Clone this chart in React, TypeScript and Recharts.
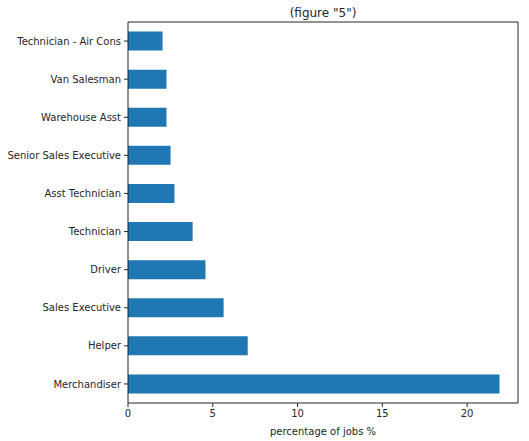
import React from 'react';
import { BarChart, Bar, XAxis, YAxis, ReferenceLine } from 'recharts';

// job titles, top to bottom as drawn
const jobs = [
  'Technician - Air Cons',
  'Van Salesman',
  'Warehouse Asst',
  'Senior Sales Executive',
  'Asst Technician',
  'Technician',
  'Driver',
  'Sales Executive',
  'Helper',
  'Merchandiser',
];
const percentages = [2.04, 2.27, 2.27, 2.51, 2.74, 3.81, 4.57, 5.64, 7.06, 21.91];
const xTicks = [0, 5, 10, 15, 20];
const xMax = 23.0;

const data = jobs.map((name, i) => ({ name, pct: percentages[i] }));

const font = 'DejaVu Sans, sans-serif';
const ink = '#262626';

// single-line category label (recharts would wrap long ones)
const JobTick = (props: any) => {
  const { x, y, payload } = props;
  return (
    <text x={x} y={y} dy="0.355em" textAnchor="end" fill={ink} fontSize={10} fontFamily={font}>
      {payload.value}
    </text>
  );
};

const App = () => {
  return (
    <div style={{ position: 'absolute', left: 0, top: 0, background: '#fff' }}>
      <BarChart
        width={529}
        height={441}
        data={data}
        layout="vertical"
        margin={{ top: 22, right: 11, bottom: 0, left: 0 }}
        barCategoryGap="25%"
      >
        <XAxis
          type="number"
          dataKey="pct"
          domain={[0, xMax]}
          ticks={xTicks}
          height={38}
          tickSize={4}
          tickMargin={3}
          allowDataOverflow
          axisLine={{ stroke: ink }}
          tickLine={{ stroke: ink }}
          tick={{ fill: ink, fontSize: 10, fontFamily: font }}
          label={{
            value: 'percentage of jobs %',
            position: 'insideBottom',
            offset: 6,
            fill: ink,
            fontSize: 10,
            fontFamily: font,
          }}
        />
        <YAxis
          type="category"
          dataKey="name"
          width={128}
          tickSize={4}
          tickMargin={3}
          interval={0}
          axisLine={{ stroke: ink }}
          tickLine={{ stroke: ink }}
          tick={<JobTick />}
        />
        <Bar dataKey="pct" fill="#1f77b4" isAnimationActive={false} />
        {/* top and right spines */}
        <ReferenceLine
          y={jobs[0]}
          position="start"
          stroke={ink}
          strokeOpacity={1}
          label={{
            value: '(figure "5")',
            position: 'top',
            offset: 5,
            fill: ink,
            fontSize: 12,
            fontFamily: font,
          }}
        />
        <ReferenceLine x={xMax} stroke={ink} strokeOpacity={1} />
      </BarChart>
    </div>
  );
};

export default App;
